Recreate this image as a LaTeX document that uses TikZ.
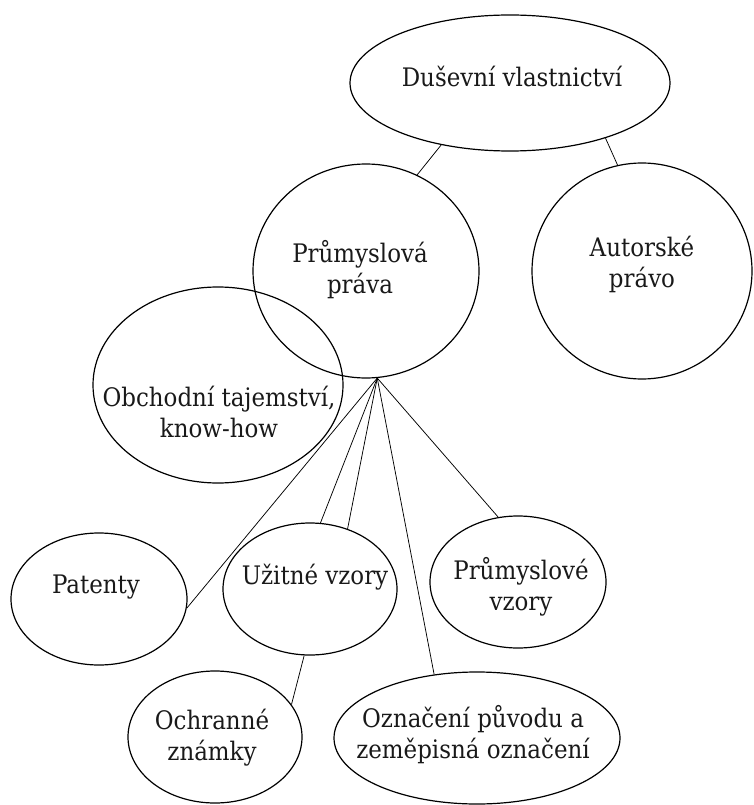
\documentclass[tikz,border=0pt]{standalone}
\usepackage{fontspec}
\setmainfont{DejaVu Serif Condensed}
\usetikzlibrary{shapes.geometric}
\begin{document}
\begin{tikzpicture}[x=1pt,y=-1pt,
  oval/.style={draw, ellipse, line width=1.2pt, inner sep=0pt},
  lbl/.style={align=center, font=\fontsize{25.5}{31}\selectfont, inner sep=0pt, text=black!90},
  conn/.style={line width=0.75pt}]
\useasboundingbox (0,0) rectangle (754,805);
% ellipses
\node[oval, minimum width=320pt, minimum height=136pt] (dus) at (510,83) {};
\node[oval, minimum width=226pt, minimum height=214pt] (pru) at (366,271) {};
\node[oval, minimum width=220pt, minimum height=216pt] (aut) at (642,271) {};
\node[oval, minimum width=250pt, minimum height=196pt] (obc) at (218,385) {};
\node[oval, minimum width=176pt, minimum height=132pt] (pat) at (99,599) {};
\node[oval, minimum width=174pt, minimum height=132pt] (uzi) at (310,589) {};
\node[oval, minimum width=176pt, minimum height=132pt] (prv) at (518,582) {};
\node[oval, minimum width=174pt, minimum height=132pt] (och) at (215,737) {};
\node[oval, minimum width=286pt, minimum height=132pt] (ozn) at (477,738) {};
% labels
\node[lbl] (tdus) at (512,76) {Duševní vlastnictví};
\node[lbl] (tpru) at (360,270) {Průmyslová\\práva};
\node[lbl] (taut) at (642,264) {Autorské\\právo};
\node[lbl] (tobc) at (219,412) {Obchodní tajemství,\\know-how};
\node[lbl] (tpat) at (96,587) {Patenty};
\node[lbl] (tuzi) at (315,577) {Užitné vzory};
\node[lbl] (tprv) at (521,587) {Průmyslové\\vzory};
\node[lbl] (toch) at (212,738) {Ochranné\\známky};
\node[lbl] (tozn) at (473,735) {Označení původu a\\zeměpisná označení};
% connectors
\coordinate (conv) at (pru.-84);
\draw[conn] (dus.222) -- (pru.62);
\draw[conn] (dus.-30) -- (aut.103);
\draw[conn] (conv) -- (pat.-6);
\draw[conn] (conv) -- (uzi.81);
\draw[conn] (conv) -- (uzi.58);
\draw[conn] (conv) -- (ozn.124);
\draw[conn] (conv) -- (prv.107);
\draw[conn] (uzi.-95) -- (och.23);
\end{tikzpicture}
\end{document}
